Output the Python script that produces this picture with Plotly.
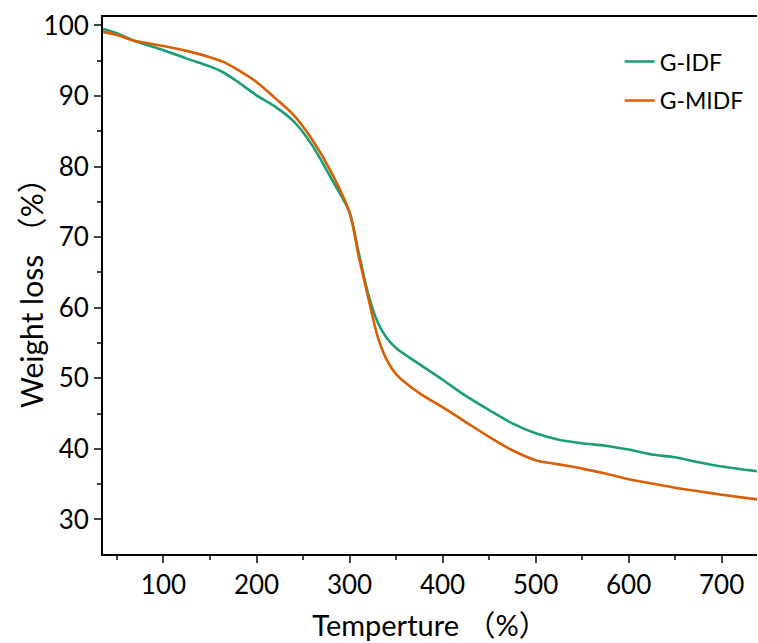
import plotly.graph_objects as go

temp_idf = [35, 50, 67, 100, 125, 150, 165, 180, 200, 220, 240, 260, 280, 300, 310, 320, 330, 340, 350, 375, 400, 425, 450, 475, 500, 525, 550, 575, 600, 625, 650, 675, 700, 740]
weight_idf = [99.5, 98.9, 97.9, 96.5, 95.3, 94.2, 93.3, 92.0, 90.1, 88.5, 86.4, 83.0, 78.4, 73.5, 67.7, 62.0, 58.0, 55.7, 54.3, 52.0, 49.8, 47.5, 45.5, 43.6, 42.2, 41.3, 40.8, 40.45, 39.9, 39.2, 38.8, 38.1, 37.5, 36.8]

temp_midf = [35, 50, 67, 100, 125, 150, 165, 180, 200, 220, 240, 260, 280, 300, 310, 320, 330, 340, 350, 375, 400, 425, 450, 475, 500, 525, 550, 575, 600, 625, 650, 675, 700, 740]
weight_midf = [99.1, 98.65, 97.9, 97.1, 96.4, 95.5, 94.8, 93.7, 92.0, 89.7, 87.3, 83.8, 79.3, 73.5, 67.2, 61.5, 56.0, 52.6, 50.6, 47.9, 45.9, 43.8, 41.7, 39.8, 38.4, 37.8, 37.2, 36.5, 35.7, 35.1, 34.5, 34.0, 33.5, 32.8]

x_ticks = [100, 200, 300, 400, 500, 600, 700]
y_ticks = [30, 40, 50, 60, 70, 80, 90, 100]

FONT = "Lato, 'Noto Sans CJK SC', sans-serif"

fig = go.Figure()
fig.add_trace(go.Scatter(x=temp_idf, y=weight_idf, mode="lines", name="G-IDF",
                         line=dict(color="#1b9e77", width=2.6, shape="spline", smoothing=0.8),
                         legendgroup="a"))
fig.add_trace(go.Scatter(x=temp_midf, y=weight_midf, mode="lines", name="G-MIDF",
                         line=dict(color="#d95f02", width=2.6, shape="spline", smoothing=0.8),
                         legendgroup="b"))

fig.update_layout(
    width=758, height=643,
    margin=dict(l=103, r=1, t=17, b=89),
    plot_bgcolor="white", paper_bgcolor="white",
    font=dict(family=FONT, size=26, color="black"),
    legend=dict(x=0.79, y=0.957, xanchor="left", yanchor="top",
                font=dict(size=23), bgcolor="rgba(0,0,0,0)", tracegroupgap=6),
    xaxis=dict(range=[35, 738], tickvals=x_ticks, ticks="outside", ticklen=7, tickwidth=2,
               showline=True, linewidth=2, linecolor="black", mirror=True, showgrid=False,
               zeroline=False,
               minor=dict(ticks="outside", ticklen=4, tickwidth=2, dtick=50, tick0=0, showgrid=False),
               title=dict(text="Temperture （%）", font=dict(size=29), standoff=16)),
    yaxis=dict(range=[25.1, 101.2], tickvals=y_ticks, ticks="outside", ticklen=7, tickwidth=2,
               showline=True, linewidth=2, linecolor="black", mirror=False, showgrid=False,
               zeroline=False,
               minor=dict(ticks="outside", ticklen=4, tickwidth=2, dtick=5, tick0=0, showgrid=False)),
    annotations=[dict(text="Weight loss （%）", xref="paper", yref="paper", x=-0.111, y=0.5,
                      xanchor="center", yanchor="middle", textangle=-90, showarrow=False,
                      font=dict(size=30))],
)

fig.write_html("out.html", config={"displayModeBar": False},
               post_script="document.body.style.margin='0';document.body.style.overflow='hidden';")
